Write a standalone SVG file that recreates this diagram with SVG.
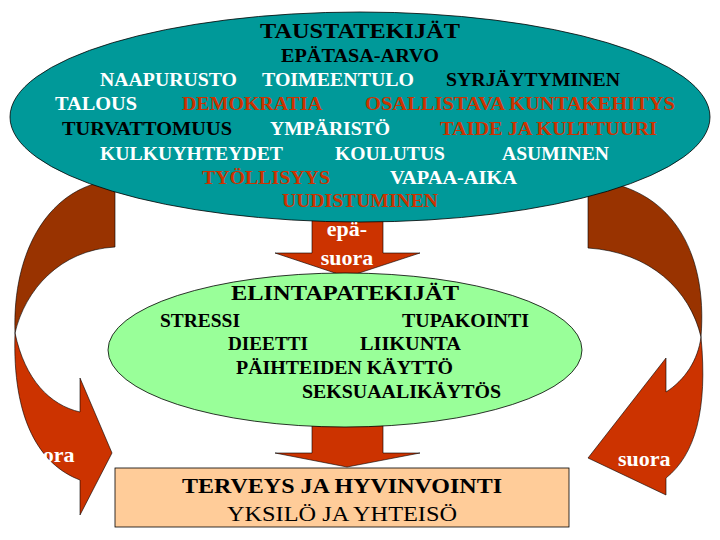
<svg xmlns="http://www.w3.org/2000/svg" width="720" height="540" viewBox="0 0 720 540">
<defs>
<style>
text{font-family:"Liberation Serif","Times New Roman",serif;font-weight:bold;font-size:18px}
.w{fill:#fff}.k{fill:#000}.r{fill:#cc3300}
.big{font-size:22px}
.up{fill:#993300;stroke:#000;stroke-width:0.6}
.lo{fill:#cc3300;stroke:#000;stroke-width:0.6}
</style>
</defs>
<rect width="720" height="540" fill="#fff"/>
<g id="connectors">
<path class="up" d="M115,180 L115,247 C60,250 25,290 15,333 C12,250 50,185 115,180 Z"/>
<path class="lo" d="M15,333 C25,380 50,405 80,412 L80,378 L112,453 L80,515 L80,480 C40,465 12,420 15,333 Z"/>
<path class="up" d="M588,180 L588,248 C650,252 690,290 701,337 C708,250 670,185 588,180 Z"/>
<path class="lo" d="M701,337 C698,360 685,380 666,392 L666,358 L588,458 L666,495 L666,478 C695,455 708,410 701,337 Z"/>
<path class="lo" d="M312,200 L383,200 L383,253 L420,253 L347,277 L275,253 L312,253 Z"/>
<path class="lo" d="M312,408 L383,408 L383,453 L420,453 L347,467 L275,453 L312,453 Z"/>
</g>
<g id="taustatekijat">
<ellipse cx="360" cy="117" rx="350" ry="105" fill="#009999" stroke="#000" stroke-width="0.8"/>
<text class="k big" x="360" y="38" text-anchor="middle" textLength="200" lengthAdjust="spacingAndGlyphs">TAUSTATEKIJÄT</text>
<text class="k" x="360" y="62" text-anchor="middle" textLength="158" lengthAdjust="spacingAndGlyphs">EPÄTASA-ARVO</text>
<text class="w" x="100" y="86" textLength="137" lengthAdjust="spacingAndGlyphs">NAAPURUSTO</text>
<text class="w" x="262" y="86" textLength="152" lengthAdjust="spacingAndGlyphs">TOIMEENTULO</text>
<text class="k" x="446" y="86" textLength="174" lengthAdjust="spacingAndGlyphs">SYRJÄYTYMINEN</text>
<text class="w" x="55" y="110" textLength="82" lengthAdjust="spacingAndGlyphs">TALOUS</text>
<text class="r" x="182" y="110" textLength="140" lengthAdjust="spacingAndGlyphs">DEMOKRATIA</text>
<text class="r" x="365" y="110" textLength="310" lengthAdjust="spacingAndGlyphs">OSALLISTAVA KUNTAKEHITYS</text>
<text class="k" x="62" y="135" textLength="170" lengthAdjust="spacingAndGlyphs">TURVATTOMUUS</text>
<text class="w" x="270" y="135" textLength="120" lengthAdjust="spacingAndGlyphs">YMPÄRISTÖ</text>
<text class="r" x="440" y="135" textLength="217" lengthAdjust="spacingAndGlyphs">TAIDE JA KULTTUURI</text>
<text class="w" x="100" y="160" textLength="183" lengthAdjust="spacingAndGlyphs">KULKUYHTEYDET</text>
<text class="w" x="335" y="160" textLength="110" lengthAdjust="spacingAndGlyphs">KOULUTUS</text>
<text class="w" x="502" y="160" textLength="107" lengthAdjust="spacingAndGlyphs">ASUMINEN</text>
<text class="r" x="202" y="184" textLength="128" lengthAdjust="spacingAndGlyphs">TYÖLLISYYS</text>
<text class="w" x="390" y="184" textLength="127" lengthAdjust="spacingAndGlyphs">VAPAA-AIKA</text>
<text class="r" x="282" y="207" textLength="156" lengthAdjust="spacingAndGlyphs">UUDISTUMINEN</text>
</g>
<g id="epasuora">
<text class="w big" x="347" y="236" text-anchor="middle">epä-</text>
<text class="w big" x="347" y="265" text-anchor="middle">suora</text>
</g>
<g id="elintapatekijat">
<ellipse cx="345" cy="350" rx="237" ry="77" fill="#99ff99" stroke="#000" stroke-width="0.8"/>
<text class="k big" x="345" y="300" text-anchor="middle" textLength="228" lengthAdjust="spacingAndGlyphs">ELINTAPATEKIJÄT</text>
<text class="k" x="160" y="327" textLength="80" lengthAdjust="spacingAndGlyphs">STRESSI</text>
<text class="k" x="402" y="327" textLength="127" lengthAdjust="spacingAndGlyphs">TUPAKOINTI</text>
<text class="k" x="228" y="350" textLength="80" lengthAdjust="spacingAndGlyphs">DIEETTI</text>
<text class="k" x="360" y="350" textLength="101" lengthAdjust="spacingAndGlyphs">LIIKUNTA</text>
<text class="k" x="236" y="374" textLength="217" lengthAdjust="spacingAndGlyphs">PÄIHTEIDEN KÄYTTÖ</text>
<text class="k" x="302" y="398" textLength="199" lengthAdjust="spacingAndGlyphs">SEKSUAALIKÄYTÖS</text>
</g>
<g id="labels">
<text class="w big" x="22" y="462">suora</text>
<text class="w big" x="618" y="466">suora</text>
</g>
<g id="terveys">
<rect x="115" y="468" width="454" height="59" fill="#ffcc99" stroke="#000" stroke-width="0.8"/>
<text class="k big" x="342" y="493" text-anchor="middle" textLength="320" lengthAdjust="spacingAndGlyphs">TERVEYS JA HYVINVOINTI</text>
<text class="k big" x="342" y="521" text-anchor="middle" textLength="230" lengthAdjust="spacingAndGlyphs" style="font-weight:normal">YKSILÖ JA YHTEISÖ</text>
</g>
</svg>
